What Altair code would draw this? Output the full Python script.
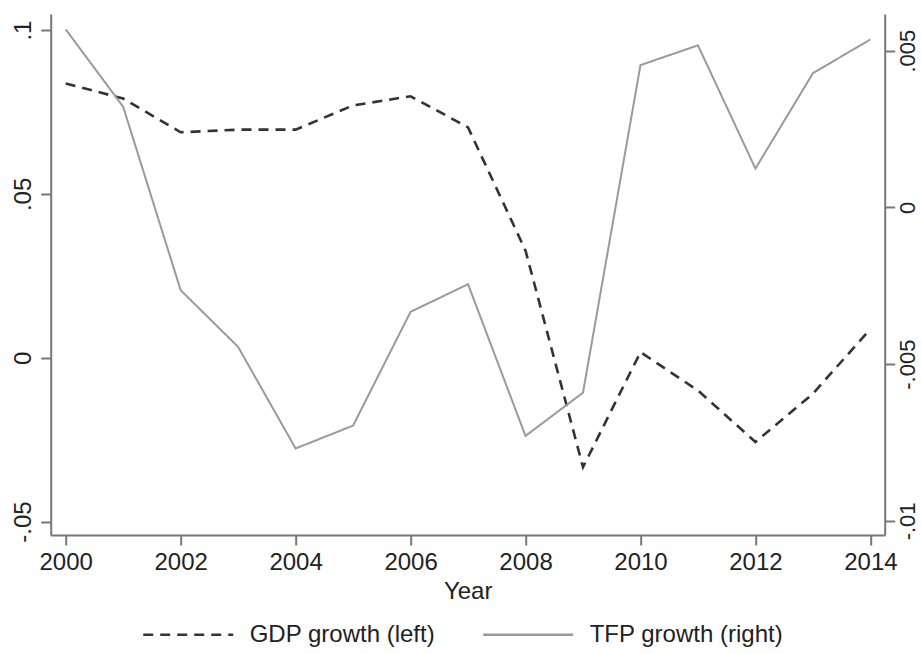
import altair as alt
import pandas as pd

# Annual series, 2000-2014
years = list(range(2000, 2015))
gdp_growth = [0.0837, 0.0791, 0.0688, 0.0696, 0.0696, 0.0770, 0.0798, 0.0703,
              0.0327, -0.0334, 0.0017, -0.0100, -0.0257, -0.0110, 0.0088]
tfp_growth = [0.00568, 0.00321, -0.00264, -0.00445, -0.00769, -0.00696, -0.00333,
              -0.00245, -0.00729, -0.00591, 0.00454, 0.00517, 0.00124, 0.00428, 0.00536]

series_names = ["GDP growth (left)", "TFP growth (right)"]
series_colors = ["#333333", "#9a9a9a"]
series_dashes = [[10, 7], [1, 0]]

year_ticks = list(range(2000, 2015, 2))
left_ticks = [-0.05, 0, 0.05, 0.1]
right_ticks = [-0.01, -0.005, 0, 0.005]

gdp_df = pd.DataFrame({"Year": years, "value": gdp_growth, "series": series_names[0]})
tfp_df = pd.DataFrame({"Year": years, "value": tfp_growth, "series": series_names[1]})

# Stata-style labels: ".05", "-.005", "0"
label_expr = ("datum.value == 0 ? '0' : (datum.value < 0 ? '-' : '') + "
              "replace(toString(abs(datum.value)), '0.', '.')")

FONT = "Liberation Sans"

x_enc = alt.X(
    "Year:Q",
    scale=alt.Scale(domain=[1999.739, 2014.249], nice=False, zero=False),
    axis=alt.Axis(values=year_ticks, format="d", title="Year",
                  labelPadding=5, titlePadding=5),
)

color_enc = alt.Color(
    "series:N",
    scale=alt.Scale(domain=series_names, range=series_colors),
    legend=alt.Legend(title=None),
)
dash_enc = alt.StrokeDash(
    "series:N",
    scale=alt.Scale(domain=series_names, range=series_dashes),
    legend=alt.Legend(title=None),
)

gdp_line = alt.Chart(gdp_df).mark_line(strokeWidth=2.6).encode(
    x=x_enc,
    y=alt.Y(
        "value:Q",
        scale=alt.Scale(domain=[-0.0541, 0.1049], nice=False, zero=False),
        axis=alt.Axis(orient="left", values=left_ticks, labelExpr=label_expr,
                      labelAngle=270, labelAlign="center", labelBaseline="bottom",
                      labelPadding=5, title=None),
    ),
    color=color_enc,
    strokeDash=dash_enc,
)

tfp_line = alt.Chart(tfp_df).mark_line(strokeWidth=2).encode(
    x=x_enc,
    y=alt.Y(
        "value:Q",
        scale=alt.Scale(domain=[-0.01045, 0.00617], nice=False, zero=False),
        axis=alt.Axis(orient="right", values=right_ticks, labelExpr=label_expr,
                      labelAngle=270, labelAlign="center", labelBaseline="top",
                      labelPadding=3, labelFontSize=22, title=None),
    ),
    color=color_enc,
    strokeDash=dash_enc,
)

chart = (
    alt.layer(gdp_line, tfp_line)
    .resolve_scale(y="independent")
    .properties(
        width=834,
        height=521,
        autosize=alt.AutoSizeParams(type="none"),
        padding={"left": 50.7, "top": 14, "right": 37.3, "bottom": 119},
        background="white",
    )
    .configure_view(stroke=None)
    .configure_axis(
        grid=False,
        domainColor="#777777",
        domainWidth=2,
        tickColor="#777777",
        tickWidth=2,
        tickSize=10,
        labelFont=FONT,
        labelFontSize=24,
        labelColor="#222222",
        titleFont=FONT,
        titleFontSize=24,
        titleFontWeight="normal",
        titleColor="#222222",
        labelOverlap=False,
    )
    .configure_legend(
        orient="none",
        legendX=91,
        legendY=574,
        direction="horizontal",
        symbolType="stroke",
        symbolSize=8100,
        symbolStrokeWidth=2.4,
        labelFont=FONT,
        labelFontSize=24,
        labelColor="#222222",
        labelOffset=15,
        labelLimit=0,
        columnPadding=42,
        padding=0,
    )
)

chart.save("out.html", embed_options={"renderer": "svg", "actions": False})
